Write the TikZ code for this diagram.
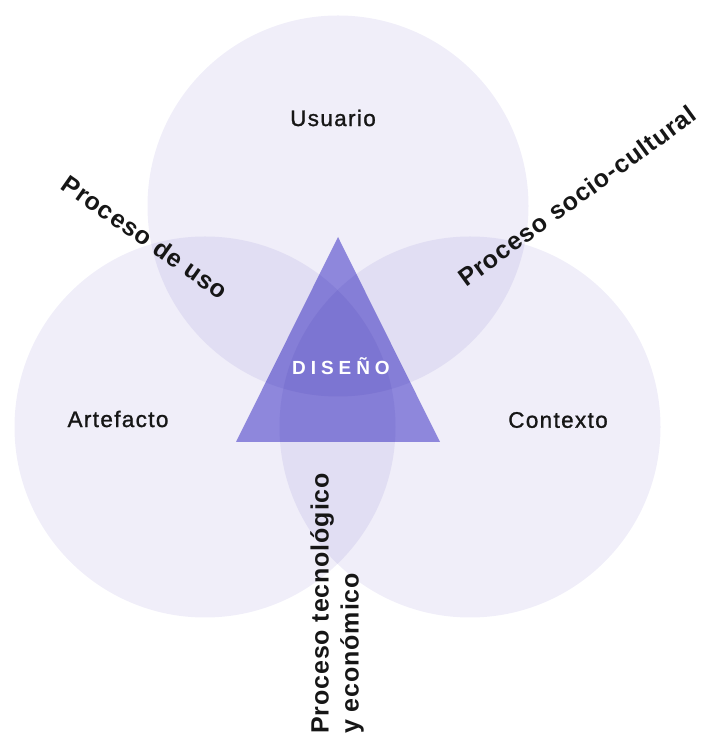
\documentclass[tikz,border=0pt]{standalone}
\usepackage{fontspec}
\setmainfont{Liberation Sans}
\newfontfamily\lblfont[LetterSpace=6,FakeBold=1.2]{Liberation Sans}
\newfontfamily\procfont[LetterSpace=3.5]{Liberation Sans}
\newfontfamily\disfont[LetterSpace=26]{Liberation Sans}
\usepackage{tikz}
\usetikzlibrary{positioning}
\definecolor{circcolor}{RGB}{240,238,249}
\definecolor{tricolor}{RGB}{151,145,226}
\definecolor{txtcolor}{RGB}{22,22,22}

\begin{document}
\begin{tikzpicture}[x=1pt,y=1pt,
circ/.style={circle,fill=circcolor,minimum size=381pt,inner sep=0pt,blend mode=multiply},
lbl/.style={font=\fontsize{22.5}{26}\selectfont\lblfont,text=txtcolor},
proc/.style={font=\fontsize{25}{30}\selectfont\procfont\bfseries,text=txtcolor,inner sep=0pt}]
\useasboundingbox (0,0) rectangle (724,733);
\clip (0,0) rectangle (724,733);
% three circles
\node[circ] (usr) at (338,527) {};
\node[circ] (art) at (205,306) {};
\node[circ] (ctx) at (470,306) {};
% triangle
\coordinate (top) at (338,496);
\coordinate (bl) at (236,291);
\coordinate (br) at (440,291);
\fill[tricolor,blend mode=multiply] (top)--(br)--(bl)--cycle;
\node[font=\fontsize{19}{20}\selectfont\disfont\bfseries,text=white] (dis) at (341,367) {DISEÑO};
% labels
\node[lbl] (usrl) at (333,615) {Usuario};
\node[lbl] (artl) at (118,314) {Artefacto};
\node[lbl] (ctxl) at (558,313) {Contexto};
\node[proc,rotate=-35] (uso) at (145,496) {Proceso de uso};
\node[proc,rotate=36] (soc) at (577,537) {Proceso socio-cultural};
\node[proc,rotate=90,anchor=west,align=left] (tec) at (337,-1) {Proceso tecnológico\\y económico};
\end{tikzpicture}
\end{document}
